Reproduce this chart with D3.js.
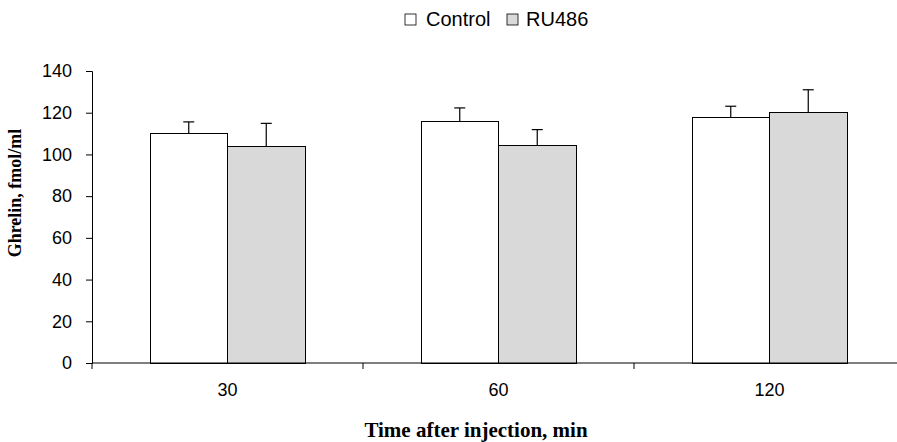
<!DOCTYPE html>
<html>
<head>
<meta charset="utf-8">
<script src="https://cdn.jsdelivr.net/npm/d3@7"></script>
<style>
  body { margin: 0; background: #fff; }
  svg { display: block; }
</style>
</head>
<body>
<main></main>
<script>
const times = ["30", "60", "120"]
const groups = ["Control", "RU486"]
const control = [109.8, 115.6, 117.8]
const controlErr = [5.8, 6.7, 5.3]
const ru486 = [103.7, 104.5, 120.0]
const ru486Err = [11.2, 7.4, 11.0]
const yTicks = [0, 20, 40, 60, 80, 100, 120, 140]

const colors = { Control: "#ffffff", RU486: "#d9d9d9" }

const doPlot = () => {
  const w = 897
  const h = 442

  const left = 92
  const top = 71
  const bottom = 363
  const catW = 271
  const groupW = 155

  const rows = times.map((t, i) => ({
    time: t,
    values: [
      { key: "Control", v: control[i], e: controlErr[i] },
      { key: "RU486", v: ru486[i], e: ru486Err[i] },
    ],
  }))

  const x0 = d3
    .scaleBand()
    .domain(times)
    .range([left, left + catW * times.length])

  const x1 = d3
    .scaleBand()
    .domain(groups)
    .range([(catW - groupW) / 2, (catW + groupW) / 2])

  const y = d3.scaleLinear().domain([0, 140]).range([bottom, top])

  const svg = d3
    .select("main")
    .append("svg")
    .attr("width", w)
    .attr("height", h)

  // bars
  const g = svg
    .selectAll(".grp")
    .data(rows)
    .enter()
    .append("g")
    .attr("class", "grp")
    .attr("transform", (d) => `translate(${x0(d.time)},0)`)

  g.selectAll("rect")
    .data((d) => d.values)
    .enter()
    .append("rect")
    .attr("x", (d) => x1(d.key))
    .attr("y", (d) => y(d.v))
    .attr("width", x1.bandwidth())
    .attr("height", (d) => y(0) - y(d.v))
    .attr("fill", (d) => colors[d.key])
    .attr("stroke", "#000")
    .attr("stroke-width", 1)
    .attr("shape-rendering", "crispEdges")

  // error bars (upper only)
  const err = g
    .selectAll(".err")
    .data((d) => d.values)
    .enter()
    .append("g")
    .attr("class", "err")
    .attr("stroke", "#000")
    .attr("stroke-width", 1.2)

  err
    .append("line")
    .attr("x1", (d) => x1(d.key) + x1.bandwidth() / 2)
    .attr("x2", (d) => x1(d.key) + x1.bandwidth() / 2)
    .attr("y1", (d) => y(d.v))
    .attr("y2", (d) => y(d.v + d.e))

  err
    .append("line")
    .attr("x1", (d) => x1(d.key) + x1.bandwidth() / 2 - 5.5)
    .attr("x2", (d) => x1(d.key) + x1.bandwidth() / 2 + 5.5)
    .attr("y1", (d) => y(d.v + d.e))
    .attr("y2", (d) => y(d.v + d.e))

  // y axis
  const yAxis = d3
    .axisLeft(y)
    .tickValues(yTicks)
    .tickSizeOuter(0)
    .tickSize(6)
    .tickPadding(14)

  const ya = svg
    .append("g")
    .attr("transform", `translate(${left},0)`)
    .call(yAxis)
  ya.selectAll("text")
    .attr("font-family", "Liberation Sans, Arial, sans-serif")
    .attr("font-size", 18)
    .attr("fill", "#000")

  // x axis: line, boundary ticks, centred labels
  svg
    .append("line")
    .attr("x1", left)
    .attr("x2", x0.range()[1])
    .attr("y1", bottom)
    .attr("y2", bottom)
    .attr("stroke", "#000")
    .attr("stroke-width", 1.2)

  svg
    .selectAll(".xtick")
    .data(times)
    .enter()
    .append("line")
    .attr("x1", (d) => x0(d))
    .attr("x2", (d) => x0(d))
    .attr("y1", bottom)
    .attr("y2", bottom + 6)
    .attr("stroke", "#000")

  const xa = svg
    .append("g")
    .attr("transform", `translate(0,${bottom})`)
    .call(d3.axisBottom(x0).tickSize(0).tickPadding(20))
  xa.select(".domain").remove()
  xa.selectAll("text")
    .attr("font-family", "Liberation Sans, Arial, sans-serif")
    .attr("font-size", 18)
    .attr("fill", "#000")

  // axis titles
  svg
    .append("text")
    .text("Time after injection, min")
    .attr("x", 476)
    .attr("y", 437)
    .attr("text-anchor", "middle")
    .attr("font-family", "Liberation Serif, Times New Roman, serif")
    .attr("font-weight", "bold")
    .attr("font-size", 21)

  svg
    .append("text")
    .text("Ghrelin, fmol/ml")
    .attr("transform", "translate(21,193) rotate(-90)")
    .attr("text-anchor", "middle")
    .attr("font-family", "Liberation Serif, Times New Roman, serif")
    .attr("font-weight", "bold")
    .attr("font-size", 18)

  // legend
  const legendX = [405, 507]
  const legend = svg
    .selectAll(".legend")
    .data(groups)
    .enter()
    .append("g")
    .attr("class", "legend")
    .attr("transform", (d, i) => `translate(${legendX[i]},14)`)

  legend
    .append("rect")
    .attr("width", 11)
    .attr("height", 11)
    .attr("fill", (d) => colors[d])
    .attr("stroke", "#000")
    .attr("stroke-width", 0.8)

  legend
    .append("text")
    .attr("x", (d, i) => (i === 0 ? 21 : 19))
    .attr("y", 12)
    .text((d) => d)
    .attr("font-family", "Liberation Sans, Arial, sans-serif")
    .attr("font-size", 20)
}

doPlot()
</script>
</body>
</html>
